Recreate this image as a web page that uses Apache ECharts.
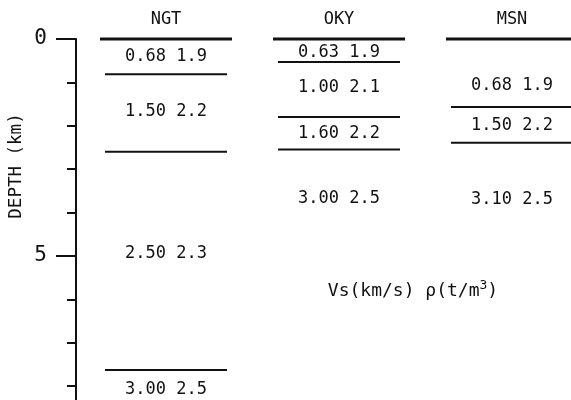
<!DOCTYPE html>
<html>
<head>
<meta charset="utf-8">
<script src="https://cdn.jsdelivr.net/npm/echarts@6/dist/echarts.min.js"></script>
<style>html,body{margin:0;padding:0;background:#fff;}#c{width:571px;height:400px;}</style>
</head>
<body>
<div id="c"></div>
<script>
// ---- data ----
const stations = ['NGT', 'OKY', 'MSN'];
// layer boundary depths (km)
const boundNGT = [0, 0.81, 2.60, 7.63];
const boundOKY = [0, 0.53, 1.80, 2.55];
const boundMSN = [0, 1.57, 2.39];
// Vs (km/s)
const vsNGT = [0.68, 1.50, 2.50, 3.00];
const vsOKY = [0.63, 1.00, 1.60, 3.00];
const vsMSN = [0.68, 1.50, 3.10];
// density (t/m3)
const rhoNGT = [1.9, 2.2, 2.3, 2.5];
const rhoOKY = [1.9, 2.1, 2.2, 2.5];
const rhoMSN = [1.9, 2.2, 2.5];
// depth at which each layer's label is written (km)
const lblDepthNGT = [0.41, 1.68, 4.95, 8.09];
const lblDepthOKY = [0.31, 1.13, 2.19, 3.69];
const lblDepthMSN = [1.08, 1.99, 3.71];
const depthTicks = [0, 5];

// ---- build series data ----
const bounds = [boundNGT, boundOKY, boundMSN];
const vs = [vsNGT, vsOKY, vsMSN];
const rho = [rhoNGT, rhoOKY, rhoMSN];
const lblDepth = [lblDepthNGT, lblDepthOKY, lblDepthMSN];

const lineData = [];
bounds.forEach((b, s) => b.forEach((d, i) => lineData.push([s, d, i === 0 ? 1 : 0])));
const textData = [];
vs.forEach((arr, s) => arr.forEach((v, i) => textData.push([s, lblDepth[s][i], v.toFixed(2) + ' ' + rho[s][i].toFixed(1)])));

const FONT = 'DejaVu Sans Mono';
const INK = '#111111';

const chart = echarts.init(document.getElementById('c'), null, {renderer: 'canvas'});
chart.setOption({
  backgroundColor: '#ffffff',
  animation: false,
  grid: {left: 79.5, width: 519, top: 39, height: 370, outerBoundsMode: 'none', containLabel: false},
  xAxis: {
    type: 'category', data: stations, position: 'top', boundaryGap: true,
    axisLine: {show: false}, axisTick: {show: false}, splitLine: {show: false},
    axisLabel: {fontFamily: FONT, fontSize: 17, color: INK, margin: 11}
  },
  yAxis: {
    type: 'value', inverse: true, min: 0, max: 8.53, interval: 5, offset: 3.5,
    axisLine: {show: true, lineStyle: {color: INK, width: 2}},
    axisTick: {show: true, length: 20, lineStyle: {color: INK, width: 2}},
    minorTick: {show: true, splitNumber: 5, length: 9, lineStyle: {color: INK, width: 2}},
    splitLine: {show: false}, minorSplitLine: {show: false},
    axisLabel: {
      fontFamily: FONT, fontSize: 21, color: INK, margin: 29, showMaxLabel: false,
      formatter: v => depthTicks.indexOf(v) >= 0 ? String(v) : ''
    }
  },
  graphic: [
    {type: 'text', x: 16, y: 166, rotation: Math.PI / 2,
      style: {text: 'DEPTH (km)', fontFamily: FONT, fontSize: 17.5, fill: INK, align: 'center', verticalAlign: 'middle'}},
    {type: 'text', x: 413, y: 291,
      style: {text: '{a|Vs(km/s) ρ(t/m}{s|3}{a|)}', align: 'center', verticalAlign: 'middle',
        rich: {a: {fontFamily: FONT, fontSize: 18, fill: INK, color: INK},
               s: {fontFamily: FONT, fontSize: 13, fill: INK, color: INK, padding: [0, 0, 11, 0]}}}}
  ],
  series: [
    {
      type: 'custom', data: lineData, clip: false,
      renderItem: (params, api) => {
        const p = api.coord([api.value(0), api.value(1)]);
        const top = api.value(2) === 1;
        const half = top ? 66 : 61;
        return {type: 'line', shape: {x1: p[0] - half, y1: p[1], x2: p[0] + half, y2: p[1]},
          style: {stroke: INK, lineWidth: top ? 3 : 2}};
      }
    },
    {
      type: 'custom', data: textData, clip: false,
      renderItem: (params, api) => {
        const p = api.coord([api.value(0), api.value(1)]);
        return {type: 'text', x: p[0], y: p[1],
          style: {text: textData[params.dataIndex][2], fontFamily: FONT, fontSize: 17, fill: INK,
            align: 'center', verticalAlign: 'middle'}};
      }
    }
  ]
});
</script>
</body>
</html>
